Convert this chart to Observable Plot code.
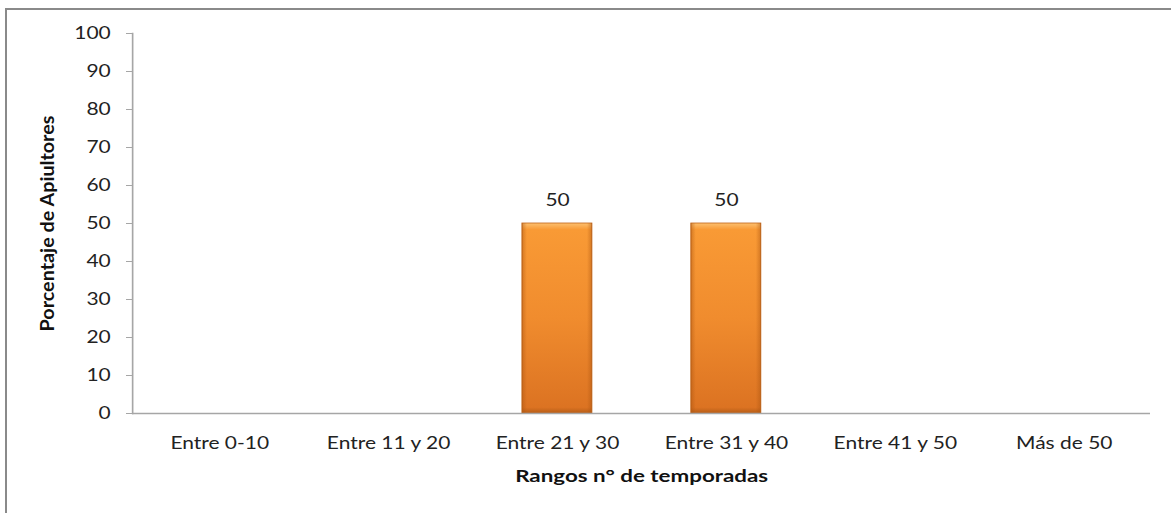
<!DOCTYPE html>
<html>
<head>
<meta charset="utf-8">
<script src="https://cdn.jsdelivr.net/npm/d3@7"></script>
<script src="https://cdn.jsdelivr.net/npm/@observablehq/plot@0.6"></script>
<style>
  html, body { margin: 0; padding: 0; background: #fff; }
  #wrap { position: relative; width: 1171px; height: 513px; overflow: hidden; }
  #border { position: absolute; left: 5px; top: 8px; right: -10px; bottom: -10px;
            border-top: 2px solid #8a8a8a; border-left: 2px solid #8a8a8a; pointer-events: none; }
  #chart { position: absolute; left: 0; top: 0; }
</style>
</head>
<body>
<div id="wrap"><div id="chart"></div><div id="border"></div></div>
<script>
const categories = ["Entre 0-10", "Entre 11 y 20", "Entre 21 y 30", "Entre 31 y 40", "Entre 41 y 50", "Más de 50"];
const values = [0, 0, 50, 50, 0, 0];
const yTicks = [0, 10, 20, 30, 40, 50, 60, 70, 80, 90, 100];
const xTitle = "Rangos n° de temporadas";
const yTitle = "Porcentaje de Apiultores";

const data = categories.map((c, i) => ({category: c, value: values[i]}));
const font = "Lato, 'Open Sans', sans-serif";

// The reference is horizontally stretched; draw at a narrower width and stretch the SVG.
const K = 1.27;
const W = 1171, H = 513;
const w = W / K;

const shown = data.filter(d => d.value > 0);

const chart = Plot.plot({
  width: w,
  height: H,
  marginLeft: 132 / K,
  marginRight: 21 / K,
  marginTop: 33,
  marginBottom: 100,
  style: {fontFamily: font, fontSize: "16.5px", color: "#222", background: "transparent"},
  x: {domain: categories, paddingInner: 0.59, paddingOuter: 0.295, label: null},
  y: {domain: [0, 100], label: null},
  marks: [
    Plot.axisY({ticks: yTicks, tickSize: 6 / K, tickPadding: 12.5, stroke: "#a6a6a6", fontSize: 16.5, label: null}),
    Plot.axisX({tickSize: 0, tickPadding: 24, fontSize: 16.5, label: null}),
    Plot.barY(shown, {x: "category", y: "value", fill: "url(#barGrad)", stroke: "#c06418", strokeWidth: 0.8}),
    Plot.barY(shown, {x: "category", y: "value", fill: "url(#barSide)"}),
    Plot.ruleY([0], {stroke: "#a6a6a6", strokeWidth: 1.5}),
    Plot.frame({anchor: "left", stroke: "#a6a6a6", strokeWidth: 1.3}),
    Plot.text(shown, {x: "category", y: "value", text: d => String(d.value), dy: -23, fontSize: 16.5, fill: "#222"}),
    Plot.text([xTitle], {frameAnchor: "bottom", dy: 68, fontSize: 17.6, fontWeight: "bold", fill: "#111"}),
    Plot.text([yTitle], {frameAnchor: "left", textAnchor: "middle", rotate: -90, dx: 37 - 132 / K, fontSize: 19.8, fontWeight: "bold", fill: "#111", className: "ytitle"})
  ]
});

chart.setAttribute("width", W);
chart.setAttribute("height", H);
chart.setAttribute("viewBox", `0 0 ${w} ${H}`);
chart.setAttribute("preserveAspectRatio", "none");
chart.style.width = W + "px";
chart.style.maxWidth = "none";

// undo the horizontal stretch on the rotated y-axis title so its glyphs keep their shape
chart.querySelectorAll("text").forEach(t => {
  if (t.textContent === yTitle) {
    const tr = t.getAttribute("transform") || "";
    t.setAttribute("transform", tr.replace("rotate(", `scale(${1 / K},1) rotate(`));
  }
});

const ns = "http://www.w3.org/2000/svg";
const defs = document.createElementNS(ns, "defs");
defs.innerHTML = `
  <linearGradient id="barGrad" x1="0" y1="0" x2="0" y2="1">
    <stop offset="0" stop-color="#fcc070"/>
    <stop offset="0.035" stop-color="#f99a35"/>
    <stop offset="0.5" stop-color="#f08c2e"/>
    <stop offset="0.97" stop-color="#dc7322"/>
    <stop offset="1" stop-color="#b85e18"/>
  </linearGradient>
  <linearGradient id="barSide" x1="0" y1="0" x2="1" y2="0">
    <stop offset="0" stop-color="#a8520f" stop-opacity="0.45"/>
    <stop offset="0.07" stop-color="#a8520f" stop-opacity="0"/>
    <stop offset="0.93" stop-color="#a8520f" stop-opacity="0"/>
    <stop offset="1" stop-color="#a8520f" stop-opacity="0.45"/>
  </linearGradient>`;
chart.insertBefore(defs, chart.firstChild);
document.getElementById("chart").appendChild(chart);
</script>
</body>
</html>
